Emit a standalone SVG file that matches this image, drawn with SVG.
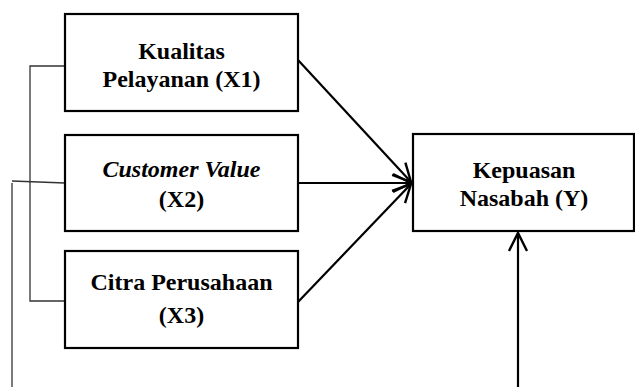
<svg xmlns="http://www.w3.org/2000/svg" width="635" height="387" viewBox="0 0 635 387">
<style>
.box{fill:#fff;stroke:#000;stroke-width:2.2}
.t{font-family:"Liberation Serif","Times New Roman",serif;font-size:24px;font-weight:bold;text-anchor:middle;fill:#000}
.i{font-style:italic}
.arr{stroke:#000;stroke-width:2.2;fill:none;marker-end:url(#ah)}
.thin{stroke:#333;stroke-width:1.3;fill:none}
</style>
<defs>
<marker id="ah" markerUnits="userSpaceOnUse" orient="auto" markerWidth="24" markerHeight="24" viewBox="-20 -12 24 24" refX="0" refY="0" overflow="visible">
<path d="M-18,-9 L0,0 L-18,9" fill="none" stroke="#000" stroke-width="2.4"/>
</marker>
</defs>
<g id="connectors">
<polyline class="thin" points="65,66 30,66 30,301 65,301"/>
<polyline class="thin" points="65,183 12,181"/>
<line class="thin" x1="12" y1="183" x2="12" y2="387"/>
<line class="arr" x1="298" y1="60" x2="411" y2="182"/>
<line class="arr" x1="298" y1="183" x2="411" y2="183"/>
<line class="arr" x1="298" y1="302" x2="411" y2="184"/>
<line class="arr" x1="518" y1="387" x2="518" y2="233"/>
</g>
<g id="x1">
<rect class="box" x="65" y="14" width="233" height="97"/>
<text class="t" x="181.5" y="59">Kualitas</text>
<text class="t" x="181.5" y="87">Pelayanan (X1)</text>
</g>
<g id="x2">
<rect class="box" x="65" y="135" width="233" height="96"/>
<text class="t i" x="181.5" y="177">Customer Value</text>
<text class="t" x="181.5" y="207">(X2)</text>
</g>
<g id="x3">
<rect class="box" x="65" y="251" width="233" height="97"/>
<text class="t" x="181.5" y="290">Citra Perusahaan</text>
<text class="t" x="181.5" y="323">(X3)</text>
</g>
<g id="y">
<rect class="box" x="413" y="134" width="221" height="97"/>
<text class="t" x="524" y="178">Kepuasan</text>
<text class="t" x="524" y="206">Nasabah (Y)</text>
</g>
</svg>
